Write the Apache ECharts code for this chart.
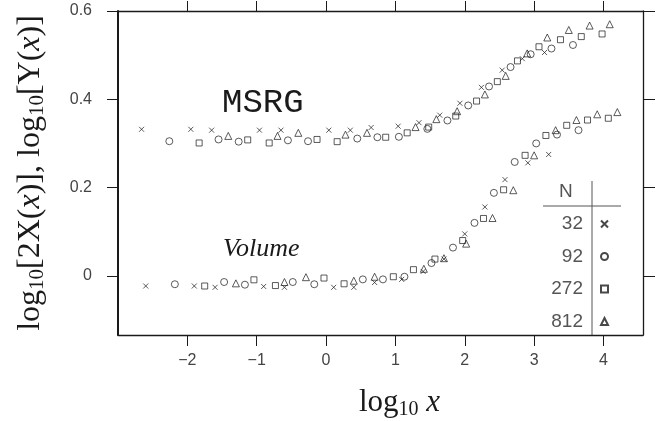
<!DOCTYPE html>
<html>
<head>
<meta charset="utf-8">
<script src="https://cdn.jsdelivr.net/npm/echarts@6/dist/echarts.min.js"></script>
<style>
  html, body { margin: 0; padding: 0; background: #fff; }
  #chart { width: 665px; height: 421px; }
</style>
</head>
<body>
<div id="chart"></div>
<script>
// tick positions
const xTicks = [-2, -1, 0, 1, 2, 3, 4];
const yTicks = [0, 0.2, 0.4, 0.6];

// legend rows (system size N)
const sizes = ['32', '92', '272', '812'];

// MSRG curves, [log10 x, log10 Y]
const msrg32 = [[-2.66, 0.332], [-1.95, 0.332], [-1.65, 0.330], [-0.96, 0.330], [-0.65, 0.330], [0.04, 0.330], [0.35, 0.330], [0.65, 0.336], [1.04, 0.339], [1.34, 0.347], [1.64, 0.364], [1.93, 0.391], [2.24, 0.427], [2.54, 0.466], [2.83, 0.492], [3.15, 0.506]];
const msrg92 = [[-2.26, 0.305], [-1.55, 0.309], [-1.26, 0.304], [-0.55, 0.307], [-0.26, 0.305], [0.45, 0.311], [0.74, 0.314], [1.05, 0.315], [1.46, 0.333], [1.75, 0.352], [2.05, 0.386], [2.35, 0.429], [2.66, 0.473], [2.95, 0.502], [3.25, 0.515], [3.56, 0.523]];
const msrg272 = [[-1.83, 0.301], [-1.13, 0.308], [-0.82, 0.301], [-0.13, 0.309], [0.16, 0.304], [0.86, 0.314], [1.17, 0.324], [1.48, 0.337], [1.87, 0.362], [2.17, 0.396], [2.47, 0.440], [2.76, 0.487], [3.07, 0.519], [3.38, 0.535], [3.68, 0.542], [3.98, 0.548]];
const msrg812 = [[-1.41, 0.317], [-0.70, 0.317], [-0.40, 0.324], [0.28, 0.320], [0.59, 0.324], [1.29, 0.337], [1.59, 0.355], [1.89, 0.373], [2.29, 0.411], [2.59, 0.453], [2.90, 0.504], [3.19, 0.540], [3.50, 0.557], [3.80, 0.567], [4.09, 0.570]];

// Volume curves, [log10 x, log10 2X]
const vol32 = [[-2.60, -0.023], [-1.90, -0.023], [-1.60, -0.026], [-0.90, -0.024], [-0.60, -0.026], [0.11, -0.026], [0.40, -0.026], [0.70, -0.015], [1.09, -0.008], [1.40, 0.010], [1.70, 0.038], [2.00, 0.095], [2.29, 0.156], [2.58, 0.218], [2.91, 0.256], [3.21, 0.275]];
const vol92 = [[-2.18, -0.019], [-1.47, -0.014], [-1.17, -0.020], [-0.48, -0.014], [-0.17, -0.019], [0.53, -0.008], [0.82, -0.008], [1.13, -0.002], [1.52, 0.029], [1.83, 0.064], [2.14, 0.120], [2.42, 0.188], [2.72, 0.258], [3.03, 0.300], [3.33, 0.320], [3.64, 0.330]];
const vol272 = [[-1.75, -0.023], [-1.04, -0.009], [-0.73, -0.022], [-0.03, -0.005], [0.26, -0.018], [0.97, -0.002], [1.26, 0.014], [1.57, 0.038], [1.97, 0.080], [2.27, 0.130], [2.56, 0.195], [2.87, 0.273], [3.17, 0.318], [3.47, 0.341], [3.77, 0.353], [4.07, 0.357]];
const vol812 = [[-1.30, -0.017], [-0.60, -0.014], [-0.29, -0.003], [0.40, -0.011], [0.70, -0.002], [1.41, 0.016], [1.70, 0.040], [2.02, 0.073], [2.40, 0.131], [2.70, 0.194], [3.00, 0.273], [3.31, 0.330], [3.61, 0.353], [3.91, 0.366], [4.20, 0.371]];

const ink = '#1a1a1a';
const crossPath = 'path://M0,0L10,10M10,0L0,10';
// marker per N
const marks = {
  '32': { symbol: crossPath, size: 5 },
  '92': { symbol: 'circle', size: 7 },
  '272': { symbol: 'rect', size: 6 },
  '812': { symbol: 'triangle', size: 7 }
};

const makeSeries = (name, data) => ({
  name: name,
  type: 'scatter',
  data: data,
  symbol: marks[name].symbol,
  symbolSize: marks[name].size,
  itemStyle: { color: 'transparent', borderColor: ink, borderWidth: 0.9 },
  emphasis: { disabled: true },
  silent: true
});

const serifFont = 'Liberation Serif';
const tickFont = { color: '#444', fontSize: 16, fontFamily: 'Liberation Sans' };
const frameLine = { show: true, onZero: false, lineStyle: { color: ink, width: 1.3 } };

const xFmt = v => (v < 0 ? '\u2212' + Math.abs(v) : String(v));

const chart = echarts.init(document.getElementById('chart'));
const option = {
  animation: false,
  backgroundColor: '#fff',
  grid: { left: 118, right: 22, top: 11, bottom: 86, outerBoundsMode: 'none' },
  legend: {
    data: sizes,
    orient: 'vertical',
    align: 'right',
    left: 535,
    top: 209,
    itemWidth: 7,
    itemHeight: 7,
    itemGap: 12.5,
    selectedMode: false,
    textStyle: { color: '#555', fontSize: 19, fontFamily: 'Liberation Sans', width: 43, align: 'right', lineHeight: 20, padding: [0, 13, 0, 0] }
  },
  xAxis: [
    {
      type: 'value', min: -3, max: 4.57, position: 'bottom',
      axisLine: frameLine,
      axisTick: { show: true, length: 11, customValues: xTicks, lineStyle: { color: ink } },
      axisLabel: { customValues: xTicks, formatter: xFmt, margin: 18, ...tickFont },
      splitLine: { show: false },
      name: '{r|log}{s|10}{i| x}',
      nameLocation: 'middle',
      nameGap: 51,
      nameTextStyle: {
        padding: [0, 0, 0, 38],
        rich: {
          r: { fontFamily: serifFont, fontSize: 31, color: ink },
          s: { fontFamily: serifFont, fontSize: 20, color: ink, padding: [14, 0, 0, 0] },
          i: { fontFamily: serifFont, fontSize: 31, fontStyle: 'italic', color: ink }
        }
      }
    },
    {
      type: 'value', min: -3, max: 4.57, position: 'top',
      axisLine: frameLine,
      axisTick: { show: true, length: 10, customValues: xTicks, lineStyle: { color: ink } },
      axisLabel: { show: false },
      splitLine: { show: false }
    }
  ],
  yAxis: [
    {
      type: 'value', min: -0.134, max: 0.6, position: 'left',
      axisLine: { show: true, onZero: false, lineStyle: { color: ink, width: 2 } },
      axisTick: { show: true, length: 11, customValues: yTicks, lineStyle: { color: ink } },
      axisLabel: { customValues: yTicks, formatter: v => (v === 0 ? '0' : v.toFixed(1)), margin: 26, ...tickFont },
      splitLine: { show: false },
      name: '{r|log}{s|10}{r|[2X(}{i|x}{r|)], log}{s|10}{r|[Y(}{i|x}{r|)]}',
      nameLocation: 'middle',
      nameRotate: 90,
      nameGap: 70,
      nameTextStyle: {
        rich: {
          r: { fontFamily: serifFont, fontSize: 32, color: ink },
          s: { fontFamily: serifFont, fontSize: 21, color: ink, padding: [14, 0, 0, 0] },
          i: { fontFamily: serifFont, fontSize: 32, fontStyle: 'italic', color: ink }
        }
      }
    },
    {
      type: 'value', min: -0.134, max: 0.6, position: 'right',
      axisLine: frameLine,
      axisTick: { show: true, length: 12, customValues: yTicks, lineStyle: { color: ink } },
      axisLabel: { show: false },
      splitLine: { show: false }
    }
  ],
  graphic: [
    { type: 'text', left: 222, top: 86, style: { text: 'MSRG', font: '34px "Liberation Mono"', fill: ink } },
    { type: 'text', left: 223, top: 236, style: { text: 'Volume', font: 'italic 26px "Liberation Serif"', fill: ink } },
    { type: 'text', left: 559, top: 182, style: { text: 'N', font: '19px "Liberation Sans"', fill: '#555' } },
    { type: 'line', shape: { x1: 543, y1: 206, x2: 621, y2: 206 }, style: { stroke: '#555', lineWidth: 1 } },
    { type: 'line', shape: { x1: 592, y1: 181, x2: 592, y2: 335 }, style: { stroke: '#555', lineWidth: 1 } }
  ],
  series: [
    makeSeries('32', msrg32),
    makeSeries('92', msrg92),
    makeSeries('272', msrg272),
    makeSeries('812', msrg812),
    makeSeries('32', vol32),
    makeSeries('92', vol92),
    makeSeries('272', vol272),
    makeSeries('812', vol812)
  ]
};
chart.setOption(option);
</script>
</body>
</html>
